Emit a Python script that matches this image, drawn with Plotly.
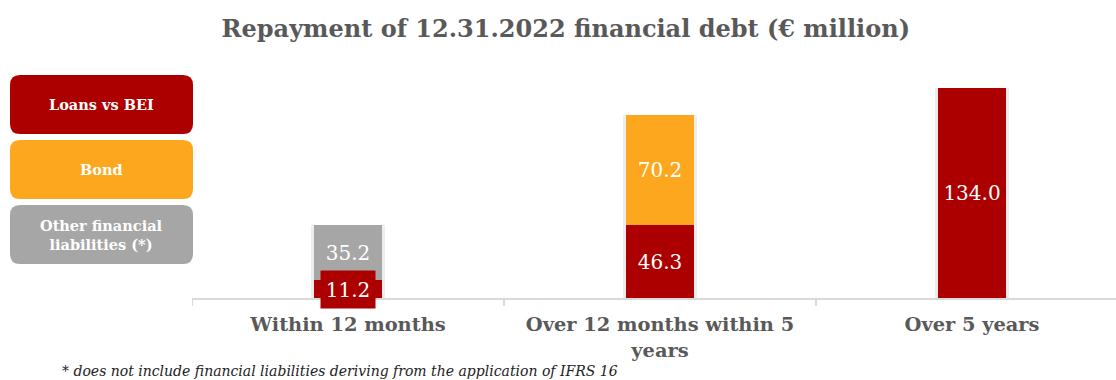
import plotly.graph_objects as go

# Data (€ million)
categories = ["Within 12 months", "Over 12 months within 5<br>years", "Over 5 years"]
loans_bei = [11.2, 46.3, 134.0]
bond = [0.0, 70.2, 0.0]
other_liab = [35.2, 0.0, 0.0]
series_names = ["Loans vs BEI", "Bond", "Other financial<br>liabilities (*)"]

RED = "#AC0000"
ORANGE = "#FCA71D"
GREY = "#A6A6A6"
TXT = "#595959"

W, H = 1116, 380
ML, MR, MT, MB = 192, 0, 60, 82
PW, PH = W - ML - MR, H - MT - MB
CAT_PX = 312                      # pixel width of one category slot
PX_PER_UNIT = 1.5672              # vertical scale
x_max = -0.5 + PW / CAT_PX
y_max = PH / PX_PER_UNIT
BAR_W = 0.221
SERIF = "DejaVu Serif"


def px_x(p):
    return (p - ML) / PW


def px_y(p):
    return (H - MB - p) / PH


def fmt(v):
    return f"{v:.1f}"


fig = go.Figure()
idx = list(range(3))

# soft shadow behind each full stack (base axis, drawn underneath)
totals = [a + b + c for a, b, c in zip(loans_bei, bond, other_liab)]
fig.add_trace(go.Bar(
    x=idx, y=totals, width=BAR_W + 0.014,
    marker=dict(color="rgba(0,0,0,0.07)", line=dict(width=0)),
    xaxis="x", yaxis="y", hoverinfo="skip", showlegend=False,
))

# stacked bars on the overlaying axis
label_font = dict(family=SERIF, size=20, color="white")
fig.add_trace(go.Bar(
    x=idx, y=loans_bei, width=BAR_W, name=series_names[0], xaxis="x2",
    marker=dict(color=RED, line=dict(width=0)),
    text=["" if v < 20 else fmt(v) for v in loans_bei],
    textposition="inside", insidetextanchor="middle", textfont=label_font,
))
fig.add_trace(go.Bar(
    x=idx, y=bond, width=BAR_W, name=series_names[1], xaxis="x2",
    marker=dict(color=ORANGE, line=dict(width=0)),
    text=[fmt(v) if v > 0 else "" for v in bond],
    textposition="inside", insidetextanchor="middle", textfont=label_font,
))
fig.add_trace(go.Bar(
    x=idx, y=other_liab, width=BAR_W, name=series_names[2], xaxis="x2",
    marker=dict(color=GREY, line=dict(width=0)),
    text=[fmt(v) if v > 0 else "" for v in other_liab],
    textposition="inside", insidetextanchor="middle", textfont=label_font,
))

annotations = []
shapes = []

# small segment label drawn as a red tag centred on its segment
for i, v in enumerate(loans_bei):
    if v < 20:
        annotations.append(dict(
            x=i, y=v / 2, xref="x2", yref="y", text=fmt(v), showarrow=False,
            font=label_font, bgcolor=RED, borderpad=6, width=42, height=25,
        ))

# legend boxes on the left
legend_colors = [RED, ORANGE, GREY]
box_tops = [75, 140, 205]
box_h, bx0, bx1, r = 59, 10, 193, 10
for name, col, top in zip(series_names, legend_colors, box_tops):
    x0, x1, y0, y1 = px_x(bx0), px_x(bx1), px_y(top), px_y(top + box_h)
    rx, ry = r / PW, r / PH
    path = (f"M {x0+rx},{y0} L {x1-rx},{y0} Q {x1},{y0} {x1},{y0-ry} "
            f"L {x1},{y1+ry} Q {x1},{y1} {x1-rx},{y1} L {x0+rx},{y1} "
            f"Q {x0},{y1} {x0},{y1+ry} L {x0},{y0-ry} Q {x0},{y0} {x0+rx},{y0} Z")
    shapes.append(dict(type="path", path=path, xref="paper", yref="paper",
                       fillcolor=col, line=dict(width=0), layer="above"))
    annotations.append(dict(
        x=(x0 + x1) / 2, y=(y0 + y1) / 2, xref="paper", yref="paper",
        text=f"<b>{name}</b>", showarrow=False,
        font=dict(family=SERIF, size=14.5, color="white"),
        xanchor="center", yanchor="middle",
    ))

# footnote
annotations.append(dict(
    x=px_x(60), y=px_y(371), xref="paper", yref="paper", xanchor="left",
    yanchor="middle", showarrow=False,
    text="<i>* does not include financial liabilities deriving from the application of IFRS 16</i>",
    font=dict(family=SERIF, size=14, color="#222222"),
))

fig.update_layout(
    width=W, height=H,
    margin=dict(l=ML, r=MR, t=MT, b=MB),
    paper_bgcolor="white", plot_bgcolor="white",
    barmode="stack", bargap=0,
    title=dict(text="<b>Repayment of 12.31.2022 financial debt (€ million)</b>",
               x=0.507, xanchor="center", y=1 - 29 / H, yanchor="middle",
               font=dict(family=SERIF, size=24, color=TXT)),
    xaxis=dict(range=[-0.5, x_max], tickvals=idx, ticktext=[f"<b>{c}</b>" for c in categories],
               tickfont=dict(family=SERIF, size=19.4, color=TXT),
               ticklabelstandoff=8,
               showgrid=False, zeroline=False, showline=True,
               linecolor="#D9D9D9", linewidth=2, ticks="", fixedrange=True),
    xaxis2=dict(range=[-0.5, x_max], overlaying="x", visible=False),
    yaxis=dict(range=[0, y_max], visible=False, showgrid=False, zeroline=False),
    shapes=shapes,
    annotations=annotations,
    showlegend=False,
)

# category boundary ticks below the axis line
for k in range(3):
    fig.add_shape(type="line", xref="x", yref="paper", x0=k - 0.5, x1=k - 0.5,
                  y0=0, y1=-8 / PH, line=dict(color="#D9D9D9", width=2))

fig.write_html("out.html")
